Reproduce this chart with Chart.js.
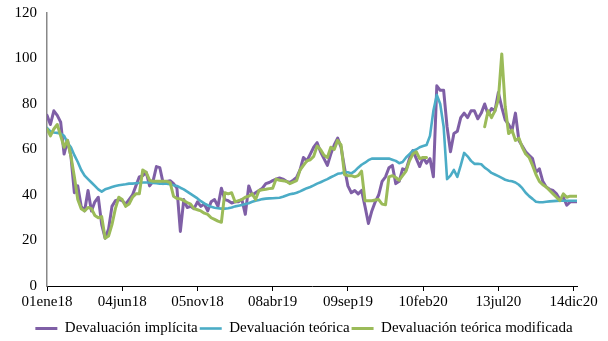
<!DOCTYPE html>
<html>
<head>
<meta charset="utf-8">
<script src="https://cdn.jsdelivr.net/npm/chart.js@4"></script>
<style>
  html, body { margin: 0; padding: 0; background: #fff; }
  #wrap { width: 608px; height: 341px; }
</style>
</head>
<body>
<div id="wrap"><canvas id="chart"></canvas></div>
<script>
// Weekly readings, week 0 = 01ene18; a tick every 22 weeks.
const tickLabels = ['01ene18', '04jun18', '05nov18', '08abr19', '09sep19', '10feb20', '13jul20', '14dic20'];
const weeksPerTick = 22;

const implicita = [
  75, 71, 77, 75, 72, 58, 64, 57, 41, 44,
  35, 33, 42, 33, 37, 39, 27, 21, 25, 35,
  37.5, 38, 37.5, 36, 38, 40, 44, 48, 48.5, 50,
  44, 46, 52.5, 52, 45, 46, 46.3, 45, 43, 24,
  38, 34.5, 35, 34, 37, 35, 36, 33, 37, 38,
  35, 43, 38, 37.5, 36.5, 37, 37, 38, 31.5, 44,
  40, 41, 42, 43, 45, 45.5, 46.3, 47, 47.5, 47,
  46, 45.5, 46.5, 47.7, 51, 56.5, 55, 58, 61, 63,
  59, 56, 53, 58, 62, 65, 61, 52, 44, 41,
  42, 40.5, 42, 35, 27.5, 33, 37, 40, 46, 48,
  52, 53, 45, 46, 51.5, 51, 56, 59.5, 56, 52.5,
  56.5, 54, 56, 48, 88, 86, 86, 70, 59, 67,
  68, 74, 76, 74, 77, 77, 73.5, 76, 80, 75.5,
  78, 77, 85, 78.5, 73, 71, 68.5, 76, 64, 61.5,
  59, 57.5, 56, 50, 51.5, 46, 43.5, 42.5, 42, 40.5,
  38, 39, 35.5, 37, 37, 37
];

const teorica = [
  69.5, 68, 67.5, 67.3, 67, 66, 63, 61, 57.5, 54.5,
  51, 48.5, 47, 45.5, 44, 42.5, 41.5, 42.5, 43, 43.5,
  44, 44.3, 44.5, 44.7, 45, 45, 45.2, 45.3, 45.5, 45.5,
  45.5, 45.3, 45.2, 45, 45, 45, 44.7, 44.3, 44, 43.2,
  42.5, 41.5, 40.5, 39.5, 38.5, 37.3, 36.3, 35.5, 34.8, 34.4,
  34.2, 34, 34, 34.2, 34.5, 35, 35.3, 35.6, 36, 36.4,
  37, 37.5, 37.8, 38.2, 38.4, 38.5, 38.6, 38.7, 38.8, 39.2,
  39.8, 40.3, 40.6, 41, 41.6, 42.3, 43, 43.5, 44.2, 45,
  45.6, 46.3, 47, 47.8, 48.5, 49.3, 49.6, 50, 50, 49.5,
  50.5, 52, 53.3, 54.2, 55.3, 56, 56, 56, 56, 56,
  56, 55.5, 55, 54, 54.5, 56.5, 58, 59.5, 60, 61,
  61.5, 62, 66, 77, 84, 80, 70, 47, 48.5, 51,
  48, 53, 58.5, 57, 55, 53.7, 53.7, 53.5, 52, 51,
  49.7, 49, 48.3, 47.5, 46.7, 46.3, 46, 45.5, 44.5, 43,
  41, 39.5, 38.3, 37, 36.8, 36.8, 37, 37.2, 37.3, 37.4,
  37.5, 37.5, 37.5, 37.5, 37.5, 37.5
];

const modificada = [
  69, 66, 69, 71, 66, 61, 64, 57, 48, 38,
  34, 33, 34.5, 34, 31, 30, 30.5, 21, 22, 27,
  34, 39, 38, 35, 36, 39, 40.5, 40.5, 51, 50,
  46.5, 46, 46, 46, 46, 46, 45.5, 39.5, 38.5, 38.3,
  37.5, 36.7, 36, 34, 33.5, 33, 32, 31.5, 30, 29.3,
  28.5, 28, 41, 40.5, 41, 37, 37.5, 38, 39, 39.5,
  40.5, 38, 42, 42.3, 42.5, 42.8, 43, 47, 46.5, 46.3,
  46, 45, 45.7, 46.3, 51, 53, 55, 55.5, 57, 61.5,
  60, 57.5, 56.5, 61, 60, 64, 62, 49, 48.5, 48.5,
  48, 48.5, 50.5, 37.5, 37.5, 37.5, 37.8, 38, 36, 35.7,
  48, 48.5, 47.7, 46.5, 48.5, 50.5, 55, 58, 59, 56,
  56.5, 56.5, null, null, null, null, null, null, null, null,
  null, null, null, null, null, null, null, null, 70, 77,
  74, 77, 82, 102, 79, 67, 68.5, 64, 65, 61,
  58, 56.5, 53, 49, 46, 44.5, 43.5, 42, 40.5, 39,
  37.5, 40.5, 39, 39.5, 39.5, 39.5
];

const toPoints = (arr) => arr.map((v, i) => ({ x: i, y: v }));
const serif = 'Liberation Serif, Times New Roman, serif';

new Chart(document.getElementById('chart'), {
  type: 'line',
  data: {
    datasets: [
      { label: 'Devaluación implícita', data: toPoints(implicita), borderColor: '#7f5fa6', borderWidth: 3, order: 3 },
      { label: 'Devaluación teórica', data: toPoints(teorica), borderColor: '#4bacc6', borderWidth: 2.6, order: 2 },
      { label: 'Devaluación teórica modificada', data: toPoints(modificada), borderColor: '#9bbb59', borderWidth: 3, order: 1 }
    ]
  },
  options: {
    responsive: true,
    maintainAspectRatio: false,
    animation: false,
    spanGaps: false,
    elements: {
      point: { radius: 0 },
      line: { tension: 0, borderJoinStyle: 'round', borderCapStyle: 'round' }
    },
    layout: { padding: { left: 0, right: 0, top: 0, bottom: -5 } },
    plugins: {
      tooltip: { enabled: false },
      legend: {
        position: 'bottom',
        labels: {
          usePointStyle: true,
          pointStyle: 'line',
          pointStyleWidth: 22,
          color: '#000',
          padding: 2,
          font: { family: serif, size: 15 },
          sort: (a, b) => a.datasetIndex - b.datasetIndex
        }
      }
    },
    scales: {
      x: {
        type: 'linear',
        min: 0,
        max: 155,
        afterBuildTicks: (scale) => {
          scale.ticks = tickLabels.map((_, i) => ({ value: i * weeksPerTick }));
        },
        afterFit: (scale) => { scale.height += 6; },
        ticks: {
          callback: (v) => tickLabels[Math.round(v / weeksPerTick)],
          autoSkip: false,
          maxRotation: 0,
          color: '#000',
          padding: 2,
          font: { family: serif, size: 15 }
        },
        grid: { drawOnChartArea: false, tickLength: 5, color: '#000' },
        border: { color: '#000', width: 1 }
      },
      y: {
        min: 0,
        max: 120,
        afterFit: (scale) => { scale.width = 47; scale.paddingTop = 13; },
        ticks: { stepSize: 20, color: '#000', padding: 10, font: { family: serif, size: 15 } },
        grid: { drawOnChartArea: false, drawTicks: false },
        border: { color: '#888', width: 1.5 }
      },
      // empty right-hand margin
      yRight: {
        position: 'right',
        min: 0,
        max: 120,
        afterFit: (scale) => { scale.width = 31; scale.paddingTop = 0; },
        ticks: { display: false },
        grid: { display: false },
        border: { display: false }
      }
    }
  }
});
</script>
</body>
</html>
